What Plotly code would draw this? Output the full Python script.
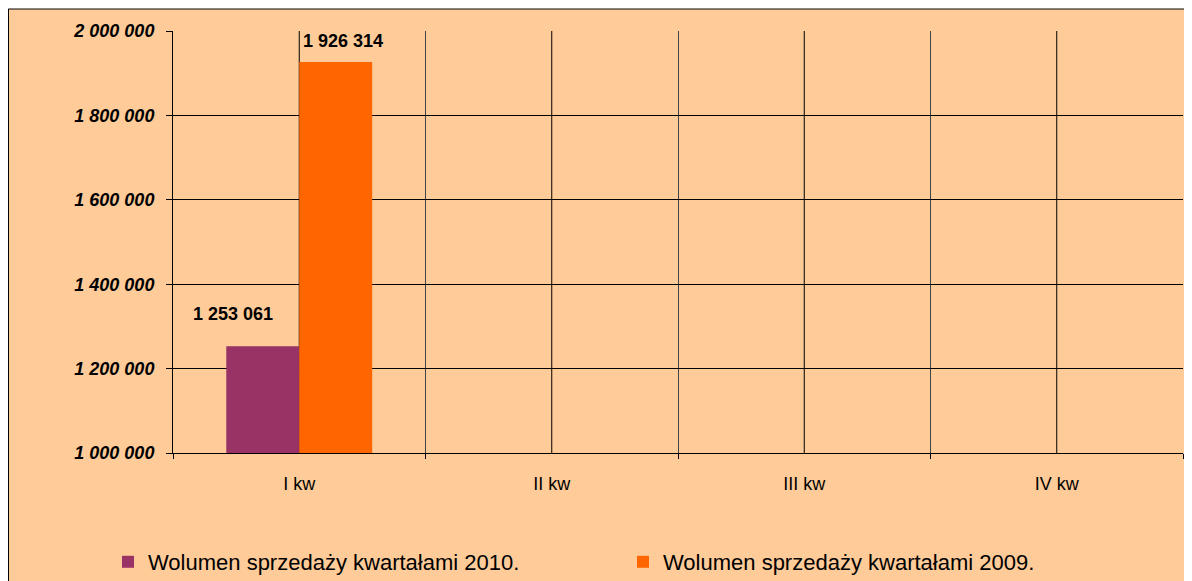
import plotly.graph_objects as go

categories = ["I kw", "II kw", "III kw", "IV kw"]
series_2010 = [1253061, None, None, None]
series_2009 = [1926314, None, None, None]
label_2010 = ["1 253 061", None, None, None]
label_2009 = ["1 926 314", None, None, None]
name_2010 = "Wolumen sprzedaży kwartałami 2010."
name_2009 = "Wolumen sprzedaży kwartałami 2009."
y_ticks = [1000000, 1200000, 1400000, 1600000, 1800000, 2000000]

# page body adds an 8px margin, so the figure is laid out 8px smaller
W, H = 1184, 573
L, R, T, B = 165, 9, 23, 128
pw, ph = W - L - R, H - T - B

def px_x(p):
    return (p - L) / pw

def px_y(p):
    return (H - B - p) / ph

FONT = "Liberation Sans, Arial, sans-serif"

fig = go.Figure()
fig.add_trace(go.Bar(x=categories, y=series_2010, name=name_2010,
                     marker=dict(color="#993366", line=dict(width=0))))
fig.add_trace(go.Bar(x=categories, y=series_2009, name=name_2009,
                     marker=dict(color="#FF6600", line=dict(width=0))))

# data labels
fig.add_annotation(x=categories[0], y=series_2010[0], text=label_2010[0], showarrow=False,
                   xref="x", yref="y", xshift=-66, yshift=32,
                   font=dict(family=FONT, size=18, color="black", weight="bold"))
fig.add_annotation(x=categories[0], y=series_2009[0], text=label_2009[0], showarrow=False,
                   xref="x", yref="y", xshift=44, yshift=21,
                   font=dict(family=FONT, size=18, color="black", weight="bold"))

shapes = [
    dict(type="rect", xref="paper", yref="paper", layer="below",
         x0=px_x(0.5), x1=px_x(1183.5), y0=px_y(1), y1=px_y(600),
         fillcolor="#FFCC99", line=dict(color="black", width=1)),
    dict(type="line", xref="paper", yref="paper", layer="below",
         x0=px_x(-8), x1=px_x(1184), y0=px_y(0), y1=px_y(0),
         line=dict(color="#888888", width=1)),
]
for c in categories:
    shapes.append(dict(type="line", xref="x", yref="y domain", layer="below",
                       x0=c, x1=c, y0=0, y1=1, line=dict(color="black", width=1)))

fig.update_layout(
    width=W, height=H,
    margin=dict(l=L, r=R, t=T, b=B, pad=0, autoexpand=False),
    paper_bgcolor="white",
    plot_bgcolor="rgba(0,0,0,0)",
    separators=", ",
    barmode="group",
    bargap=0.422,
    bargroupgap=0,
    shapes=shapes,
    font=dict(family=FONT, color="black"),
    showlegend=True,
    legend=dict(orientation="h", x=px_x(100), y=px_y(554), xanchor="left", yanchor="middle",
                font=dict(family=FONT, size=22, color="black"),
                bgcolor="rgba(0,0,0,0)", entrywidth=470, entrywidthmode="pixels",
                itemsizing="constant", itemwidth=30, traceorder="normal"),
    xaxis=dict(type="category", categoryarray=categories, categoryorder="array",
               tickson="boundaries", ticks="outside", ticklen=5, tickcolor="black",
               showgrid=True, gridcolor="#444444", gridwidth=1,
               showline=True, linecolor="black", linewidth=1,
               ticklabelstandoff=14,
               tickfont=dict(family=FONT, size=18, color="black"),
               zeroline=False),
    yaxis=dict(range=[1000000, 2000000], tickvals=y_ticks, tickformat=",d",
               ticks="outside", ticklen=6, tickcolor="black",
               showgrid=True, gridcolor="black", gridwidth=1,
               showline=True, linecolor="black", linewidth=1,
               zeroline=False, ticklabelstandoff=8,
               tickfont=dict(family=FONT, size=18, color="black", weight="bold", style="italic")),
)

fig.write_html("out.html")
